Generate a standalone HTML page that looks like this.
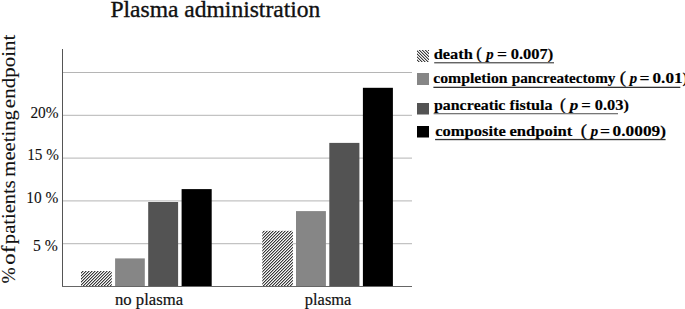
<!DOCTYPE html>
<html>
<head>
<meta charset="utf-8">
<style>
html,body{margin:0;padding:0;background:#fff;}
body{width:685px;height:309px;overflow:hidden;position:relative;}
svg{position:absolute;left:0;top:0;}
text{font-family:"Liberation Serif",serif;fill:#111;font-kerning:none;white-space:pre;stroke:#111;stroke-width:0.35px;}
.yt text{stroke-width:0.1px;}
.tk{stroke-width:0.1px;}
.xl{stroke-width:0.2px;}
.lp{stroke-width:0.3px;fill:#000;stroke:#000;}
text[font-weight="bold"]{stroke-width:0.15px;fill:#000;stroke:#000;}
</style>
</head>
<body>
<svg width="685" height="309" viewBox="0 0 685 309">
<defs>
<pattern id="hb" patternUnits="userSpaceOnUse" x="0" y="0" width="3" height="3">
<rect width="3" height="3" fill="#f8f8f8"/>
<rect x="0" y="2" width="1" height="1" fill="#3a3a3a"/><rect x="1" y="1" width="1" height="1" fill="#3a3a3a"/><rect x="2" y="0" width="1" height="1" fill="#3a3a3a"/>
<rect x="0" y="0" width="1" height="1" fill="#a8a8a8"/><rect x="1" y="2" width="1" height="1" fill="#a8a8a8"/><rect x="2" y="1" width="1" height="1" fill="#a8a8a8"/>
</pattern>
<pattern id="hl" patternUnits="userSpaceOnUse" x="0" y="0" width="3" height="3">
<rect width="3" height="3" fill="#f6f6f6"/>
<rect x="0" y="0" width="1" height="1" fill="#3c3c3c"/><rect x="1" y="1" width="1" height="1" fill="#3c3c3c"/><rect x="2" y="2" width="1" height="1" fill="#3c3c3c"/>
<rect x="1" y="0" width="1" height="1" fill="#b0b0b0"/><rect x="2" y="1" width="1" height="1" fill="#b0b0b0"/><rect x="0" y="2" width="1" height="1" fill="#b0b0b0"/>
</pattern>
</defs>
<g fill="#b5b5b5">
<rect x="63" y="72" width="349" height="1"/>
<rect x="63" y="114.8" width="349" height="1"/>
<rect x="63" y="157.6" width="349" height="1"/>
<rect x="63" y="200.4" width="349" height="1"/>
<rect x="63" y="243.2" width="349" height="1"/>
</g>
<rect x="62" y="49" width="1" height="238" fill="#555"/>
<rect x="62" y="286" width="350" height="1" fill="#666"/>
<rect x="81" y="271" width="30.8" height="15" fill="url(#hb)"/>
<rect x="115.1" y="258.4" width="29.7" height="27.6" fill="#868686"/>
<rect x="148.2" y="202" width="29.9" height="84" fill="#535353"/>
<rect x="181.6" y="189.1" width="30.1" height="96.9" fill="#000"/>
<rect x="262.3" y="230.8" width="30.6" height="55.2" fill="url(#hb)"/>
<rect x="296" y="211.1" width="29.9" height="74.9" fill="#868686"/>
<rect x="329.3" y="142.9" width="30.1" height="143.1" fill="#535353"/>
<rect x="362.9" y="87.8" width="30" height="198.2" fill="#000"/>
<rect x="417" y="50" width="12" height="12" fill="url(#hl)"/>
<rect x="417" y="73" width="12" height="12" fill="#868686"/>
<rect x="417" y="103" width="12" height="11.5" fill="#535353"/>
<rect x="417" y="126" width="12" height="11.5" fill="#000"/>
<text x="110.42" y="16.8" font-size="22.5" textLength="209.93" lengthAdjust="spacingAndGlyphs">Plasma administration</text>
<g class="yt" transform="translate(15.0,290.0) rotate(-90)"><text x="6.53" y="0" font-size="19.8" textLength="16.23" lengthAdjust="spacingAndGlyphs">%</text><text x="25.23" y="0" font-size="19.8" textLength="19.07" lengthAdjust="spacingAndGlyphs">of</text><text x="45.87" y="0" font-size="19.8" textLength="63.87" lengthAdjust="spacingAndGlyphs">patients</text><text x="113.37" y="0" font-size="19.8" textLength="66.53" lengthAdjust="spacingAndGlyphs">meeting</text><text x="181.88" y="0" font-size="19.8" textLength="73.54" lengthAdjust="spacingAndGlyphs">endpoint</text></g>
<text class="tk" x="30.42" y="117.6" font-size="16.3" textLength="28.20" lengthAdjust="spacingAndGlyphs">20%</text>
<text class="tk" x="27.16" y="160.3" font-size="16.3" textLength="31.66" lengthAdjust="spacingAndGlyphs">15 %</text>
<text class="tk" x="26.25" y="202.8" font-size="16.3" textLength="32.08" lengthAdjust="spacingAndGlyphs">10 %</text>
<text class="tk" x="32.99" y="251.3" font-size="16.3" textLength="24.85" lengthAdjust="spacingAndGlyphs">5 %</text>
<text class="xl" x="115.02" y="304.7" font-size="17.2" textLength="68.11" lengthAdjust="spacingAndGlyphs">no plasma</text>
<text class="xl" x="304.84" y="304.7" font-size="17.2" textLength="46.49" lengthAdjust="spacingAndGlyphs">plasma</text>
<text x="433.74" y="59.3" font-size="15.2" font-weight="bold" textLength="39.11" lengthAdjust="spacingAndGlyphs">death</text>
<text class="lp" x="476.36" y="59.3" font-size="15.799999999999999" textLength="5.58" lengthAdjust="spacingAndGlyphs">(</text>
<text x="486.35" y="59.3" font-size="15.2" font-weight="bold" font-style="italic" textLength="7.39" lengthAdjust="spacingAndGlyphs">p</text>
<text x="496.92" y="59.3" font-size="15.2" font-weight="bold" textLength="10.05" lengthAdjust="spacingAndGlyphs">=</text>
<text x="510.67" y="59.3" font-size="15.2" font-weight="bold" textLength="42.65" lengthAdjust="spacingAndGlyphs">0.007)</text>
<text x="433.26" y="83.1" font-size="15.2" font-weight="bold" textLength="74.38" lengthAdjust="spacingAndGlyphs">completion</text>
<text x="511.81" y="83.1" font-size="15.2" font-weight="bold" textLength="103.64" lengthAdjust="spacingAndGlyphs">pancreatectomy</text>
<text class="lp" x="619.68" y="83.1" font-size="15.799999999999999" textLength="6.22" lengthAdjust="spacingAndGlyphs">(</text>
<text x="629.85" y="83.1" font-size="15.2" font-weight="bold" font-style="italic" textLength="7.39" lengthAdjust="spacingAndGlyphs">p</text>
<text x="639.42" y="83.1" font-size="15.2" font-weight="bold" textLength="10.05" lengthAdjust="spacingAndGlyphs">=</text>
<text x="652.55" y="83.1" font-size="15.2" font-weight="bold" textLength="35.71" lengthAdjust="spacingAndGlyphs">0.01)</text>
<text x="434.00" y="110.3" font-size="15.2" font-weight="bold" textLength="71.40" lengthAdjust="spacingAndGlyphs">pancreatic</text>
<text x="509.58" y="110.3" font-size="15.2" font-weight="bold" textLength="43.06" lengthAdjust="spacingAndGlyphs">fistula</text>
<text class="lp" x="560.13" y="110.3" font-size="15.799999999999999" textLength="5.83" lengthAdjust="spacingAndGlyphs">(</text>
<text x="569.71" y="110.3" font-size="15.2" font-weight="bold" font-style="italic" textLength="8.50" lengthAdjust="spacingAndGlyphs">p</text>
<text x="581.16" y="110.3" font-size="15.2" font-weight="bold" textLength="9.56" lengthAdjust="spacingAndGlyphs">=</text>
<text x="594.78" y="110.3" font-size="15.2" font-weight="bold" textLength="34.14" lengthAdjust="spacingAndGlyphs">0.03)</text>
<text x="435.24" y="135.8" font-size="15.2" font-weight="bold" textLength="70.69" lengthAdjust="spacingAndGlyphs">composite</text>
<text x="509.43" y="135.8" font-size="15.2" font-weight="bold" textLength="62.94" lengthAdjust="spacingAndGlyphs">endpoint</text>
<text class="lp" x="580.88" y="135.8" font-size="15.799999999999999" textLength="6.22" lengthAdjust="spacingAndGlyphs">(</text>
<text x="590.75" y="135.8" font-size="15.2" font-weight="bold" font-style="italic" textLength="7.39" lengthAdjust="spacingAndGlyphs">p</text>
<text x="599.92" y="135.8" font-size="15.2" font-weight="bold" textLength="10.05" lengthAdjust="spacingAndGlyphs">=</text>
<text x="612.64" y="135.8" font-size="15.2" font-weight="bold" textLength="53.32" lengthAdjust="spacingAndGlyphs">0.0009)</text>
<rect x="434.2" y="62.1" width="119.8" height="1.3" fill="#555"/>
<rect x="433.4" y="86.7" width="246.9" height="1.3" fill="#333"/>
<rect x="433.6" y="113.0" width="184.4" height="1.3" fill="#777"/>
<rect x="435.1" y="138.9" width="230.5" height="1.3" fill="#333"/>
</svg>
</body>
</html>
